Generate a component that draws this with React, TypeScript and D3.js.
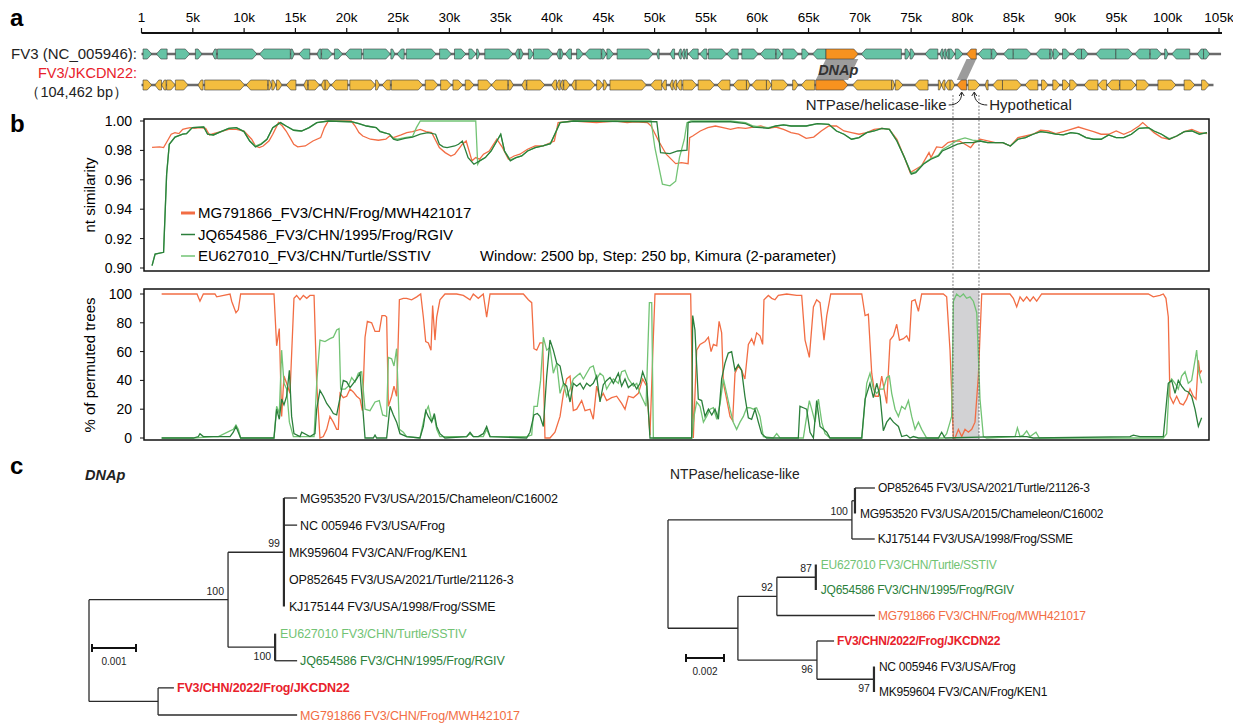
import React from "react";
import * as d3 from "d3";

const W = 1233;
const H = 725;
const FONT = "'Liberation Sans', Arial, Helvetica, sans-serif";

// colours
const C_FV3 = "#66c3a5";
const C_JK = "#f3bd3f";
const C_HL = "#f7921f";
const C_OR = "#f26d44";
const C_DG = "#2b7f3b";
const C_LG = "#72c374";
const C_RED = "#e8212b";

// ---------- panel a : genome maps (kb) ----------
const rulerTicks = [0.001, 5, 10, 15, 20, 25, 30, 35, 40, 45, 50, 55, 60, 65, 70, 75, 80, 85, 90, 95, 100, 105];
const rulerLabels = ["1", "5k", "10k", "15k", "20k", "25k", "30k", "35k", "40k", "45k", "50k", "55k", "60k", "65k", "70k", "75k", "80k", "85k", "90k", "95k", "100k", "105k"];

const fv3Length = 105.2;
const jkLength = 104.462;

// [start kb, end kb, strand]
const fv3Genes = [
  [0.15, 1.0, 1], [1.45, 2.5, -1], [3.3, 4.7, 1], [5.25, 5.9, 1], [6.9, 7.3, -1], [7.4, 11.25, 1],
  [11.5, 14.5, -1], [14.55, 14.9, 1], [15.35, 16.4, -1], [17.1, 17.5, -1], [17.55, 18.6, 1], [18.8, 19.6, 1],
  [19.85, 21.45, -1], [21.6, 24.25, 1], [24.3, 24.7, 1], [24.9, 25.6, -1], [25.8, 28.7, 1], [29.05, 30.2, 1],
  [30.5, 31.6, 1], [31.9, 32.6, 1], [32.65, 32.95, 1], [33.45, 36.2, 1], [36.4, 36.8, -1], [36.85, 37.2, 1],
  [37.7, 38.2, 1], [38.2, 40.1, 1], [40.45, 40.8, -1], [40.8, 41.1, 1], [41.3, 41.9, -1], [42.4, 43.05, 1],
  [43.2, 44.8, -1], [44.85, 45.3, 1], [45.35, 46.0, 1], [46.35, 49.85, 1], [50.2, 50.45, -1], [51.5, 51.95, -1],
  [52.3, 52.6, -1], [52.65, 52.95, -1], [52.95, 53.2, -1], [53.3, 54.25, -1], [54.4, 55.1, -1], [55.25, 57.0, 1],
  [57.05, 58.15, -1], [58.5, 60.1, 1], [60.3, 61.8, -1], [61.85, 62.4, 1], [62.5, 64.0, 1], [64.35, 65.05, 1],
  [65.4, 66.7, -1], [70.15, 74.05, -1], [74.4, 74.9, 1], [74.9, 75.35, 1], [76.35, 77.6, -1], [77.8, 78.1, -1],
  [78.1, 78.4, -1], [78.4, 78.7, -1], [78.7, 79.25, 1], [79.3, 80.05, 1], [81.55, 82.8, -1], [82.85, 83.4, 1],
  [84.0, 84.95, -1], [84.95, 86.7, 1], [87.15, 88.5, -1], [88.55, 88.85, 1], [88.85, 89.5, 1], [89.75, 90.5, 1],
  [90.8, 91.6, -1], [91.6, 92.25, 1], [93.0, 94.95, -1], [94.95, 96.6, 1], [96.8, 98.25, -1], [98.3, 99.4, 1],
  [99.7, 100.05, 1], [100.4, 102.15, -1], [102.9, 103.5, -1], [103.5, 104.1, 1],
];

const jkGenes = [
  [0.15, 1.0, 1], [1.3, 1.95, -1], [1.95, 2.4, -1], [2.45, 3.3, 1], [3.3, 4.55, 1], [5.5, 6.0, -1],
  [6.15, 10.05, 1], [10.2, 12.3, -1], [12.35, 12.7, 1], [12.7, 13.1, 1], [13.15, 13.7, 1], [14.1, 15.05, -1],
  [15.8, 16.2, -1], [16.25, 17.35, 1], [17.5, 17.9, -1], [17.9, 18.4, 1], [18.5, 20.1, -1], [20.3, 22.8, 1],
  [22.8, 23.2, 1], [23.45, 24.25, -1], [24.35, 27.4, 1], [27.65, 28.9, 1], [29.15, 30.2, 1], [30.35, 31.3, 1],
  [31.55, 32.4, 1], [32.8, 34.1, 1], [34.1, 35.7, -1], [35.75, 36.25, 1], [37.05, 37.5, -1], [37.55, 39.3, 1],
  [39.95, 40.45, -1], [40.45, 40.8, -1], [40.8, 41.1, -1], [41.15, 41.75, 1], [41.9, 42.35, -1], [42.35, 44.2, 1],
  [44.35, 45.0, 1], [45.0, 45.4, 1], [45.65, 49.2, 1], [49.6, 50.7, -1], [50.7, 51.15, -1], [51.5, 51.8, -1],
  [51.8, 52.15, -1], [52.15, 52.65, -1], [52.75, 54.1, 1], [54.25, 55.85, 1], [56.1, 57.35, -1], [57.65, 58.95, -1],
  [58.95, 59.3, 1], [59.45, 60.9, -1], [60.9, 61.4, 1], [61.4, 63.0, 1], [63.45, 64.0, 1], [64.3, 65.6, -1],
  [69.3, 73.1, -1], [73.1, 73.4, 1], [73.45, 74.2, 1], [75.35, 76.65, -1], [77.65, 77.95, 1], [77.95, 78.3, -1],
  [78.3, 78.8, -1], [78.8, 79.25, 1], [80.55, 81.7, 1], [82.2, 82.5, -1], [82.95, 83.9, -1], [83.9, 85.75, 1],
  [86.1, 87.35, -1], [87.7, 88.35, 1], [88.8, 89.5, 1], [89.75, 90.45, 1], [90.45, 91.2, 1], [91.85, 93.2, -1],
  [93.2, 94.05, -1], [94.1, 95.3, -1], [95.35, 96.9, 1], [96.95, 98.2, 1], [99.05, 100.8, 1], [101.6, 102.65, 1],
  [103.3, 104.05, 1],
];

// DNAp, NTPase/helicase-like
const fv3Highlight = [[66.7, 69.85, 1], [80.4, 81.35, -1]];
const jkHighlight = [[65.7, 68.85, 1], [79.45, 80.4, -1]];
const hypothetical = [80.55, 81.7];

// ---------- panel b : similarity / bootscan ----------
const recombRegion = [79.35, 81.9];
const simTicks = [1.0, 0.98, 0.96, 0.94, 0.92, 0.9];
const bootTicks = [100, 80, 60, 40, 20, 0];

const simMG = [
  [0.79, 0.982], [1.54, 0.9824], [1.92, 0.9819], [2.29, 0.9864], [2.67, 0.991], [3.04, 0.9921], [3.42, 0.9914],
  [3.8, 0.9943], [4.17, 0.995], [4.55, 0.9955], [4.92, 0.995], [5.49, 0.9955], [6.05, 0.995], [6.43, 0.9905],
  [6.8, 0.9914], [7.55, 0.9928], [8.31, 0.9943], [9.06, 0.9943], [9.81, 0.9932], [10.56, 0.9876], [10.94, 0.983],
  [11.31, 0.9819], [11.69, 0.983], [12.25, 0.9864], [12.63, 0.991], [13.19, 0.9989], [13.57, 0.9966],
  [13.94, 0.9932], [14.32, 0.9887], [14.69, 0.9842], [15.07, 0.9824], [15.82, 0.983], [16.57, 0.9864],
  [17.33, 0.9887], [17.7, 0.9955], [18.08, 1.0], [20.33, 1.0], [20.71, 0.9966], [21.08, 0.9921], [21.46, 0.9898],
  [22.21, 0.9876], [22.99, 0.9869], [23.72, 0.9876], [24.09, 0.9898], [24.47, 0.9887], [25.22, 0.9905],
  [25.78, 0.9921], [26.34, 0.9928], [27.1, 0.9943], [27.66, 0.9928], [28.22, 0.9921], [28.97, 0.9819],
  [29.54, 0.9785], [30.1, 0.9762], [30.48, 0.9774], [31.23, 0.9842], [31.6, 0.9864], [32.17, 0.9729],
  [32.54, 0.9751], [32.92, 0.974], [33.3, 0.9774], [33.86, 0.9796], [34.61, 0.9876], [35.17, 0.9819],
  [35.74, 0.974], [36.3, 0.9762], [36.87, 0.9774], [37.62, 0.9808], [38.37, 0.983], [39.12, 0.983], [39.5, 0.9842],
  [40.25, 0.9864], [40.62, 0.9989], [42.13, 1.0], [44.38, 0.9989], [46.26, 1.0], [47.39, 0.9989], [48.14, 0.9995],
  [49.37, 0.9989], [49.74, 0.9966], [50.48, 0.9864], [51.22, 0.9774], [52.15, 0.971], [52.71, 0.9717],
  [53.37, 0.971], [53.52, 0.9887], [53.82, 0.9898], [54.56, 0.9932], [55.3, 0.9955], [56.05, 0.9966],
  [56.79, 0.9955], [57.53, 0.9943], [58.28, 0.9955], [59.01, 0.995], [59.76, 0.9959], [60.5, 0.9966],
  [61.24, 0.995], [61.98, 0.9959], [62.73, 0.9943], [63.47, 0.9921], [64.21, 0.991], [64.95, 0.9882],
  [65.69, 0.9891], [66.43, 0.9932], [67.17, 0.9966], [67.92, 0.9966], [68.66, 0.9932], [69.4, 0.9921],
  [70.14, 0.991], [70.88, 0.9921], [71.62, 0.9943], [72.37, 0.995], [73.11, 0.9943], [73.85, 0.9876],
  [74.59, 0.9751], [75.15, 0.9649], [75.7, 0.9672], [76.26, 0.9695], [77.0, 0.9785], [77.19, 0.9751],
  [77.74, 0.9824], [78.3, 0.9819], [78.86, 0.9853], [79.42, 0.9864], [79.97, 0.9864], [80.53, 0.9842],
  [81.08, 0.9819], [81.45, 0.9853], [82.01, 0.9876], [82.75, 0.9864], [83.5, 0.9853], [84.24, 0.9853],
  [84.98, 0.983], [85.72, 0.9887], [86.46, 0.9898], [87.2, 0.991], [87.94, 0.9937], [88.69, 0.9932],
  [89.43, 0.9914], [90.17, 0.9928], [90.91, 0.9943], [91.65, 0.9959], [92.4, 0.9943], [93.14, 0.9928],
  [93.88, 0.991], [94.62, 0.991], [95.36, 0.9932], [96.1, 0.991], [96.85, 0.9932], [97.59, 0.9966],
  [97.96, 0.9989], [98.52, 0.9955], [99.07, 0.9921], [99.81, 0.9887], [100.56, 0.9876], [101.3, 0.9898],
  [102.04, 0.9928], [102.78, 0.9943], [103.52, 0.9921], [104.27, 0.9914],
];

const simJQ = [
  [0.79, 0.9016], [1.09, 0.9095], [1.92, 0.9107], [2.22, 0.9638], [2.48, 0.9842], [3.04, 0.9891], [3.8, 0.991],
  [4.17, 0.9914], [4.74, 0.9955], [5.86, 0.9959], [6.24, 0.991], [6.8, 0.9905], [7.55, 0.9928], [8.31, 0.995],
  [9.06, 0.9955], [9.81, 0.9928], [10.37, 0.9864], [10.94, 0.9824], [11.5, 0.9842], [12.06, 0.9876],
  [12.63, 0.9955], [13.38, 0.9989], [13.94, 0.9966], [14.69, 0.9937], [15.45, 0.9932], [16.2, 0.9955],
  [16.95, 0.9989], [18.08, 1.0], [20.33, 0.9995], [21.08, 0.9982], [21.83, 0.9966], [22.77, 0.9955],
  [23.15, 0.9928], [23.53, 0.9921], [24.09, 0.991], [24.47, 0.9876], [24.85, 0.9869], [25.59, 0.9882],
  [26.34, 0.9891], [27.1, 0.991], [27.85, 0.9921], [28.6, 0.991], [28.97, 0.9842], [29.35, 0.9824],
  [29.73, 0.9819], [30.48, 0.983], [30.85, 0.9842], [31.23, 0.9864], [31.79, 0.9751], [32.36, 0.9706],
  [32.92, 0.9729], [33.48, 0.9751], [34.05, 0.9796], [34.61, 0.9864], [34.99, 0.991], [35.36, 0.9796],
  [35.93, 0.9729], [36.49, 0.9751], [37.05, 0.9762], [37.62, 0.9796], [38.37, 0.9819], [39.12, 0.983],
  [39.87, 0.9846], [40.44, 0.9932], [40.81, 0.9989], [42.13, 1.0], [50.3, 0.9995], [50.67, 0.9785],
  [51.59, 0.9778], [52.34, 0.9796], [53.26, 0.9801], [53.37, 0.9989], [53.82, 0.9995], [57.53, 0.9995],
  [59.01, 0.9982], [59.76, 0.9959], [60.5, 0.9955], [61.24, 0.995], [61.98, 0.9966], [62.73, 0.9973],
  [63.47, 0.9966], [64.95, 0.9966], [66.06, 0.9982], [67.17, 0.9977], [67.92, 0.9932], [68.66, 0.991],
  [69.4, 0.9876], [70.14, 0.9887], [70.88, 0.9921], [71.62, 0.9932], [72.37, 0.995], [73.11, 0.9943],
  [73.85, 0.9864], [74.59, 0.9751], [75.26, 0.9638], [75.7, 0.9649], [76.44, 0.9706], [77.19, 0.974],
  [77.93, 0.9762], [78.3, 0.9796], [79.04, 0.9819], [79.79, 0.9842], [80.53, 0.9853], [81.27, 0.9853],
  [82.01, 0.9864], [82.75, 0.9853], [83.5, 0.9853], [84.24, 0.9853], [84.98, 0.983], [85.72, 0.9876],
  [86.46, 0.9887], [87.2, 0.991], [87.94, 0.9928], [88.69, 0.9921], [89.43, 0.991], [90.17, 0.9905],
  [90.91, 0.9921], [91.65, 0.9914], [92.4, 0.9887], [93.14, 0.9876], [93.88, 0.9876], [94.62, 0.9905],
  [95.36, 0.9887], [96.1, 0.9887], [96.85, 0.991], [97.59, 0.995], [98.52, 0.9955], [99.07, 0.9932],
  [99.81, 0.991], [100.56, 0.9876], [101.3, 0.9898], [102.04, 0.9928], [102.78, 0.9932], [103.52, 0.991],
  [104.27, 0.9921],
];

const simEU = [
  [0.79, 0.9016], [1.09, 0.9095], [1.92, 0.9107], [2.22, 0.9638], [2.48, 0.9842], [3.04, 0.9891], [3.8, 0.991],
  [4.17, 0.9914], [4.74, 0.9955], [5.86, 0.9959], [6.24, 0.991], [6.8, 0.9905], [7.55, 0.9928], [8.31, 0.995],
  [9.06, 0.9955], [9.81, 0.9928], [10.37, 0.9864], [10.94, 0.983], [11.5, 0.9846], [12.06, 0.9876],
  [12.63, 0.9955], [13.38, 0.9989], [13.94, 0.9966], [14.69, 0.9937], [15.45, 0.9932], [16.2, 0.9955],
  [16.95, 0.9989], [18.08, 1.0], [20.33, 0.9995], [21.08, 0.9982], [21.83, 0.9966], [22.77, 0.9955],
  [23.15, 0.9932], [23.53, 0.9921], [24.09, 0.991], [24.47, 0.9882], [24.85, 0.9876], [25.59, 0.9887],
  [26.34, 0.9895], [26.72, 0.9955], [27.1, 1.0], [32.54, 1.0], [32.73, 0.9706], [32.92, 0.9729],
  [33.48, 0.9751], [34.05, 0.9796], [34.61, 0.9864], [34.99, 0.991], [35.36, 0.9796], [35.93, 0.9735],
  [36.49, 0.9751], [37.05, 0.9762], [37.62, 0.9796], [38.37, 0.9819], [39.12, 0.983], [39.87, 0.9846],
  [40.44, 0.9932], [40.81, 0.9989], [42.13, 1.0], [49.74, 1.0], [50.11, 0.9818], [50.85, 0.957],
  [51.59, 0.9559], [52.15, 0.959], [52.52, 0.9751], [53.0, 0.9876], [53.26, 0.9989], [53.64, 1.0],
  [57.53, 1.0], [59.01, 0.9989], [59.76, 0.9966], [60.5, 0.9959], [61.24, 0.9955], [61.98, 0.9966],
  [62.73, 0.9973], [63.47, 0.9966], [64.95, 0.9966], [66.06, 0.9982], [67.17, 0.9977], [67.92, 0.9932],
  [68.66, 0.991], [69.4, 0.9876], [70.14, 0.9887], [70.88, 0.9921], [71.62, 0.9932], [72.37, 0.995],
  [73.11, 0.9943], [73.85, 0.9864], [74.59, 0.9751], [75.26, 0.9645], [75.7, 0.9655], [76.44, 0.971],
  [77.19, 0.9745], [77.93, 0.9768], [78.3, 0.9805], [79.04, 0.9835], [79.79, 0.987], [80.53, 0.9885],
  [81.27, 0.987], [82.01, 0.9864], [82.75, 0.9853], [83.5, 0.9853], [84.24, 0.9853], [84.98, 0.983],
  [85.72, 0.9876], [86.46, 0.9887], [87.2, 0.991], [87.94, 0.9928], [88.69, 0.9921], [89.43, 0.991],
  [90.17, 0.9905], [90.91, 0.9921], [91.65, 0.9914], [92.4, 0.9887], [93.14, 0.9876], [93.88, 0.9876],
  [94.62, 0.9905], [95.36, 0.9887], [96.1, 0.9887], [96.85, 0.991], [97.59, 0.995], [98.52, 0.9955],
  [99.07, 0.9932], [99.81, 0.991], [100.56, 0.988], [101.3, 0.9898], [102.04, 0.9928], [102.78, 0.9935],
  [103.52, 0.9912], [104.27, 0.9921],
];

// % of permuted trees
const bootMG = [
  [1.73, 100], [5.2, 100], [5.49, 95], [5.82, 100], [6.96, 100], [7.13, 98], [8.44, 100], [8.6, 95], [9.02, 87],
  [9.25, 89], [9.48, 100], [12.75, 100], [13.01, 64], [13.27, 76], [13.5, 15], [13.73, 43], [13.99, 38],
  [14.32, 31], [14.71, 97], [14.97, 99], [15.3, 96], [15.63, 99], [15.96, 97], [16.28, 99], [16.68, 99],
  [16.94, 38], [17.26, 0], [17.59, 1], [17.92, 6], [18.24, 15], [18.57, 11], [18.9, 6], [19.06, 6], [19.23, 31],
  [19.55, 28], [19.88, 29], [20.21, 34], [20.53, 32], [20.86, 29], [21.19, 27], [21.42, 19], [21.68, 70],
  [21.91, 81], [22.33, 80], [22.66, 74], [23.08, 74], [23.34, 85], [23.64, 85], [23.8, 84], [23.97, 22],
  [24.29, 29], [24.52, 36], [24.78, 29], [25.05, 96], [25.44, 97], [25.76, 97], [26.25, 96], [26.75, 98],
  [27.14, 100], [27.4, 84], [27.63, 67], [27.89, 66], [28.15, 61], [28.31, 92], [28.54, 68], [28.71, 84],
  [29.03, 96], [29.52, 100], [30.67, 100], [31.32, 99], [31.98, 96], [32.3, 100], [32.79, 97], [33.28, 100],
  [33.61, 84], [33.94, 100], [37.21, 100], [37.7, 96], [38.03, 94], [38.25, 62], [38.52, 61], [38.84, 66],
  [39.11, 66], [39.33, 0], [39.82, 0], [40.31, 4], [40.81, 15], [41.14, 31], [41.46, 41], [41.79, 43],
  [42.11, 19], [42.44, 20], [42.93, 26], [43.26, 19], [43.75, 20], [44.07, 13], [44.4, 36], [44.73, 27],
  [45.05, 31], [45.38, 26], [45.87, 28], [46.36, 29], [46.85, 24], [47.18, 20], [47.51, 29], [48.0, 28],
  [48.49, 31], [48.91, 41], [49.31, 36], [49.63, 2], [49.96, 70], [50.12, 100], [53.62, 100], [53.88, 0],
  [54.21, 61], [54.54, 65], [55.03, 67], [55.36, 70], [55.62, 60], [55.85, 65], [56.18, 64], [56.41, 81],
  [56.66, 73], [56.83, 38], [57.15, 27], [57.48, 15], [57.74, 12], [57.97, 45], [58.29, 50], [58.62, 47],
  [58.94, 41], [59.28, 65], [59.6, 69], [59.83, 65], [60.09, 73], [60.42, 71], [60.68, 65], [60.81, 96],
  [61.24, 99], [61.57, 97], [61.89, 96], [62.22, 99], [63.04, 100], [64.02, 99], [64.51, 99], [64.84, 68],
  [65.26, 56], [65.66, 91], [65.98, 96], [66.31, 94], [66.7, 68], [66.97, 85], [67.36, 100], [70.4, 100],
  [70.73, 85], [71.05, 86], [71.38, 45], [71.71, 29], [72.03, 29], [72.36, 43], [72.85, 24], [73.18, 68],
  [73.51, 71], [73.83, 79], [74.1, 68], [74.49, 69], [74.81, 71], [75.07, 67], [75.3, 95], [75.63, 96],
  [75.96, 88], [76.28, 100], [78.4, 100], [78.73, 98], [79.06, 61], [79.39, 0], [79.55, 0], [79.88, 6],
  [80.21, 1], [80.53, 6], [80.86, 4], [81.19, 6], [81.51, 11], [81.84, 43], [82.17, 100], [84.94, 100],
  [85.27, 97], [85.6, 91], [85.93, 98], [86.25, 95], [86.58, 98], [86.91, 95], [87.23, 98], [87.56, 95],
  [88.05, 100], [98.51, 100], [99.0, 98], [99.65, 99], [99.98, 100], [100.24, 97], [100.47, 84], [100.63, 29],
  [100.96, 24], [101.29, 29], [101.62, 24], [101.94, 23], [102.27, 27], [102.6, 34], [102.92, 29], [103.19, 27],
  [103.42, 54], [103.58, 45], [103.74, 47],
];

const bootJQ = [
  [1.73, 0], [4.84, 0], [5.33, 1], [5.49, 3], [5.82, 1], [8.44, 1], [8.76, 4], [9.02, 8], [9.25, 4], [9.48, 0],
  [12.75, 0], [13.01, 20], [13.27, 13], [13.5, 27], [13.73, 23], [13.99, 29], [14.26, 47], [14.48, 15],
  [14.71, 3], [15.3, 1], [15.47, 4], [16.28, 1], [16.77, 3], [16.94, 20], [17.26, 33], [17.59, 29], [17.92, 24],
  [18.24, 21], [18.57, 17], [18.9, 16], [19.23, 28], [19.55, 40], [19.88, 39], [20.21, 35], [20.53, 38],
  [20.86, 41], [21.19, 45], [21.35, 31], [21.68, 0], [22.49, 0], [22.66, 2], [22.82, 0], [23.8, 0], [24.13, 22],
  [24.46, 16], [24.78, 11], [25.11, 3], [25.76, 1], [27.07, 0], [27.4, 8], [27.63, 19], [27.89, 15], [28.22, 11],
  [28.48, 17], [28.71, 8], [29.03, 3], [29.52, 0], [31.65, 1], [31.98, 4], [32.3, 1], [32.79, 1], [33.28, 3],
  [33.61, 8], [33.94, 1], [37.53, 0], [37.86, 4], [38.25, 16], [38.58, 17], [38.84, 15], [39.17, 8], [39.5, 43],
  [39.82, 68], [40.15, 61], [40.48, 52], [40.81, 50], [41.14, 38], [41.46, 36], [41.79, 25], [42.11, 38],
  [42.44, 36], [42.77, 38], [43.1, 34], [43.42, 38], [43.75, 36], [44.07, 38], [44.4, 43], [44.73, 25],
  [45.05, 37], [45.38, 40], [45.71, 42], [46.04, 38], [46.53, 45], [46.85, 36], [47.18, 41], [47.51, 35],
  [48.0, 38], [48.33, 34], [48.65, 38], [48.91, 46], [49.31, 38], [49.63, 0], [53.72, 0], [53.82, 85],
  [54.04, 75], [54.37, 27], [54.7, 26], [55.03, 15], [55.36, 20], [55.69, 16], [56.01, 20], [56.34, 13],
  [56.66, 41], [56.99, 52], [57.31, 59], [57.64, 60], [57.97, 47], [58.29, 51], [58.62, 47], [58.94, 29],
  [59.28, 14], [59.6, 13], [59.93, 20], [60.26, 11], [60.58, 3], [61.07, 0], [64.18, 0], [64.34, 22],
  [64.67, 21], [65.0, 20], [65.33, 4], [65.66, 0], [65.98, 26], [66.31, 8], [66.64, 6], [66.97, 4], [67.29, 0],
  [70.4, 0], [70.73, 27], [71.21, 38], [71.54, 28], [71.87, 38], [72.2, 29], [72.52, 5], [72.85, 11],
  [73.18, 14], [73.51, 11], [74.0, 8], [74.32, 1], [74.81, 2], [75.14, 0], [75.46, 1], [75.96, 0], [77.92, 0],
  [78.24, 4], [78.57, 0], [83.81, 1], [84.62, 1], [86.58, 1], [87.23, 0], [96.71, 1], [97.04, 2], [97.69, 1],
  [99.98, 1], [100.47, 38], [100.8, 40], [101.13, 31], [101.45, 40], [101.78, 36], [102.11, 33], [102.43, 32],
  [102.76, 29], [103.09, 20], [103.42, 8], [103.74, 14],
];

const bootEU = [
  [1.73, 0], [4.84, 0], [6.8, 1], [7.29, 1], [8.44, 5], [8.76, 6], [9.02, 9], [9.25, 6], [9.48, 0], [12.75, 0],
  [13.01, 22], [13.27, 17], [13.5, 61], [13.73, 38], [13.99, 34], [14.26, 11], [14.65, 1], [16.68, 1],
  [16.94, 38], [17.26, 68], [17.75, 67], [18.24, 69], [18.57, 70], [18.9, 75], [19.13, 76], [19.29, 34],
  [19.72, 34], [20.04, 36], [20.37, 42], [20.7, 39], [21.02, 45], [21.35, 46], [21.68, 20], [22.17, 19],
  [22.66, 25], [23.08, 26], [23.41, 16], [23.8, 15], [23.97, 56], [24.29, 55], [24.52, 50], [24.78, 62],
  [25.05, 6], [25.44, 4], [25.76, 1], [27.07, 0], [27.4, 11], [27.63, 18], [27.89, 22], [28.22, 12],
  [28.48, 15], [28.71, 6], [29.03, 1], [31.65, 1], [31.98, 3], [32.3, 1], [33.28, 1], [33.61, 6], [33.94, 1],
  [37.53, 1], [38.03, 2], [38.25, 22], [38.58, 22], [38.9, 40], [39.17, 70], [39.5, 61], [39.82, 63],
  [40.15, 45], [40.48, 52], [40.81, 31], [41.14, 38], [41.46, 29], [41.79, 34], [42.11, 41], [42.44, 43],
  [42.77, 45], [43.1, 41], [43.42, 45], [43.75, 49], [44.07, 50], [44.4, 41], [44.73, 45], [45.05, 43],
  [45.38, 34], [45.71, 38], [46.04, 41], [46.53, 38], [46.85, 46], [47.18, 47], [47.51, 41], [48.0, 36],
  [48.33, 38], [48.65, 31], [49.24, 22], [49.57, 94], [49.8, 94], [49.96, 0], [53.72, 0], [53.95, 15],
  [54.21, 25], [54.54, 22], [54.87, 11], [55.19, 15], [55.52, 20], [55.85, 21], [56.18, 13], [56.51, 24],
  [56.83, 41], [57.15, 31], [57.48, 20], [57.8, 11], [58.13, 6], [58.46, 11], [58.79, 15], [59.11, 21],
  [59.44, 21], [59.77, 20], [60.09, 21], [60.42, 15], [60.75, 1], [61.73, 0], [62.06, 3], [62.39, 0],
  [64.67, 0], [65.0, 15], [65.26, 26], [65.49, 20], [65.82, 11], [66.15, 27], [66.48, 11], [66.8, 3],
  [67.29, 0], [70.4, 0], [70.89, 38], [71.21, 45], [71.54, 34], [71.87, 31], [72.2, 34], [72.52, 34],
  [72.85, 42], [73.11, 43], [73.34, 31], [73.67, 20], [74.0, 15], [74.32, 22], [74.65, 20], [74.98, 26],
  [75.3, 15], [75.63, 6], [75.96, 11], [76.28, 6], [76.77, 0], [78.4, 0], [78.73, 3], [79.06, 11], [79.22, 15],
  [79.39, 95], [79.71, 100], [80.04, 98], [80.37, 100], [80.69, 97], [81.02, 98], [81.35, 95], [81.68, 87],
  [82.0, 27], [82.33, 1], [82.66, 0], [85.44, 1], [85.67, 7], [85.93, 1], [86.25, 2], [86.58, 5], [86.91, 1],
  [87.49, 4], [87.82, 0], [99.98, 0], [100.31, 3], [100.57, 38], [100.8, 41], [101.13, 38], [101.45, 34],
  [101.78, 43], [102.11, 46], [102.43, 38], [102.76, 40], [103.09, 54], [103.25, 61], [103.42, 47], [103.74, 38],
];

const legendItems = [
  { label: "MG791866_FV3/CHN/Frog/MWH421017", color: C_OR, width: 3 },
  { label: "JQ654586_FV3/CHN/1995/Frog/RGIV", color: C_DG, width: 1.5 },
  { label: "EU627010_FV3/CHN/Turtle/SSTIV", color: C_LG, width: 1.5 },
];

// ---------- panel c : trees ----------
type TNode = { name?: string; len: number; boot?: string; pos?: string; color?: string; bold?: boolean; children?: TNode[] };

const dnapTree: TNode = {
  len: 0,
  children: [
    {
      len: 0.00316, boot: "100", pos: "above",
      children: [
        {
          len: 0.00127, boot: "99", pos: "above",
          children: [
            { name: "MG953520 FV3/USA/2015/Chameleon/C16002", len: 0.0003 },
            { name: "NC 005946 FV3/USA/Frog", len: 0.0003 },
            { name: "MK959604 FV3/CAN/Frog/KEN1", len: 0 },
            { name: "OP852645 FV3/USA/2021/Turtle/21126-3", len: 0 },
            { name: "KJ175144 FV3/USA/1998/Frog/SSME", len: 0 },
          ],
        },
        {
          len: 0.00107, boot: "100", pos: "below",
          children: [
            { name: "EU627010 FV3/CHN/Turtle/SSTIV", len: 0, color: C_LG },
            { name: "JQ654586 FV3/CHN/1995/Frog/RGIV", len: 0.0005, color: C_DG },
          ],
        },
      ],
    },
    {
      len: 0.00157,
      children: [
        { name: "FV3/CHN/2022/Frog/JKCDN22", len: 0.00036, color: C_RED, bold: true },
        { name: "MG791866 FV3/CHN/Frog/MWH421017", len: 0.00316, color: C_OR },
      ],
    },
  ],
};

const ntpaseTree: TNode = {
  len: 0,
  children: [
    {
      len: 0.00968, boot: "100", pos: "above",
      children: [
        {
          len: 0.00016,
          children: [
            { name: "OP852645 FV3/USA/2021/Turtle/21126-3", len: 0.00105 },
            { name: "MG953520 FV3/USA/2015/Chameleon/C16002", len: 0 },
          ],
        },
        { name: "KJ175144 FV3/USA/1998/Frog/SSME", len: 0.0012 },
      ],
    },
    {
      len: 0.00368,
      children: [
        {
          len: 0.00205, boot: "92", pos: "above",
          children: [
            {
              len: 0.00205, boot: "87", pos: "above",
              children: [
                { name: "EU627010 FV3/CHN/Turtle/SSTIV", len: 0, color: C_LG },
                { name: "JQ654586 FV3/CHN/1995/Frog/RGIV", len: 0, color: C_DG },
              ],
            },
            { name: "MG791866 FV3/CHN/Frog/MWH421017", len: 0.00516, color: C_OR },
          ],
        },
        {
          len: 0.00416, boot: "96", pos: "below",
          children: [
            { name: "FV3/CHN/2022/Frog/JKCDN22", len: 0.0009, color: C_RED, bold: true },
            {
              len: 0.003, boot: "97", pos: "below",
              children: [
                { name: "NC 005946 FV3/USA/Frog", len: 0 },
                { name: "MK959604 FV3/CAN/Frog/KEN1", len: 0 },
              ],
            },
          ],
        },
      ],
    },
  ],
};

// ---------- helpers ----------
const xa = d3.scaleLinear().domain([0, 105]).range([141.5, 1219]);
const xb = d3.scaleLinear().domain([0, 104.462]).range([144, 1209]);
const ySim = d3.scaleLinear().domain([0.9, 1.0]).range([268, 121]);
const yBoot = d3.scaleLinear().domain([0, 100]).range([438, 294]);

function genePath(x0: number, x1: number, dir: number, yc: number, h: number) {
  const head = Math.min(4.5, (x1 - x0) * 0.6);
  const t = yc - h / 2;
  const b = yc + h / 2;
  if (dir > 0) return `M${x0},${t}L${x1 - head},${t}L${x1},${yc}L${x1 - head},${b}L${x0},${b}Z`;
  return `M${x1},${t}L${x0 + head},${t}L${x0},${yc}L${x0 + head},${b}L${x1},${b}Z`;
}

function Track({ genes, highlight, yc, fill, length }: any) {
  return (
    <g>
      <line x1={xa(0)} x2={xa(length)} y1={yc} y2={yc} stroke="#6b6b6b" strokeWidth={2.4} />
      {genes.map((g: number[], i: number) => (
        <path key={i} d={genePath(xa(g[0]), xa(g[1]), g[2], yc, 10)} fill={fill} stroke="#3a3a3a" strokeWidth={0.6} />
      ))}
      {highlight.map((g: number[], i: number) => (
        <path key={"h" + i} d={genePath(xa(g[0]), xa(g[1]), g[2], yc, 10)} fill={C_HL} stroke="#3a3a3a" strokeWidth={0.6} />
      ))}
    </g>
  );
}

function Tree({ data, rootX, unit, yTop, yBottom, fontSize, spacing }: any) {
  const root = d3.hierarchy<TNode>(data);
  const xs = d3.scaleLinear().domain([0, 0.001]).range([rootX, rootX + unit]);
  const leaves = root.leaves();
  const yl = d3.scaleLinear().domain([0, leaves.length - 1]).range([yTop, yBottom]);
  const depth = new Map<any, number>();
  const ypos = new Map<any, number>();
  root.each((n: any) => {
    depth.set(n, (n.parent ? depth.get(n.parent)! : 0) + n.data.len);
  });
  leaves.forEach((n: any, i: number) => ypos.set(n, yl(i)));
  root.eachAfter((n: any) => {
    if (n.children) {
      const c = n.children;
      ypos.set(n, (ypos.get(c[0])! + ypos.get(c[c.length - 1])!) / 2);
    }
  });
  const nodes = root.descendants();
  return (
    <g fontFamily={FONT}>
      {nodes.map((n: any, i: number) => {
        const x = xs(depth.get(n)!);
        const y = ypos.get(n)!;
        const els: any[] = [];
        if (n.parent) {
          const px = xs(depth.get(n.parent)!);
          els.push(<line key="h" x1={px} x2={x} y1={y} y2={y} stroke="#2b2b2b" strokeWidth={1.3} />);
        }
        if (n.children) {
          const c = n.children;
          const bold = c.some((k: any) => k.data.len === 0);
          els.push(
            <line key="v" x1={x} x2={x} y1={ypos.get(c[0])} y2={ypos.get(c[c.length - 1])}
              stroke="#2b2b2b" strokeWidth={bold ? 2.2 : 1.3} />
          );
          if (n.data.boot) {
            els.push(
              <text key="b" x={x - 4} y={n.data.pos === "below" ? y + 13 : y - 5} fontSize={10.5}
                textAnchor="end" fill="#222">{n.data.boot}</text>
            );
          }
        } else {
          els.push(
            <text key="t" x={x + (n.data.len > 0 ? 3 : 5)} y={y} dy="0.36em" fontSize={fontSize}
              letterSpacing={spacing} fill={n.data.color || "#111"}
              fontWeight={n.data.bold ? "bold" : "normal"}>{n.data.name}</text>
          );
        }
        return <g key={i}>{els}</g>;
      })}
    </g>
  );
}

function ScaleBar({ x, y, unit, value, label }: any) {
  const s = d3.scaleLinear().domain([0, 0.001]).range([0, unit]);
  const w = s(value);
  return (
    <g>
      <line x1={x} x2={x + w} y1={y} y2={y} stroke="#111" strokeWidth={2} />
      <line x1={x} x2={x} y1={y - 4} y2={y + 4} stroke="#111" strokeWidth={2} />
      <line x1={x + w} x2={x + w} y1={y - 4} y2={y + 4} stroke="#111" strokeWidth={2} />
      <text x={x + w / 2} y={y + 17} fontSize={10} textAnchor="middle" fill="#222">{label}</text>
    </g>
  );
}

export default function App() {
  const simLine = d3.line<number[]>().x((d) => xb(d[0])).y((d) => ySim(Math.min(1, d[1])));
  const bootLine = d3.line<number[]>().x((d) => xb(d[0])).y((d) => yBoot(d[1]));

  const yFv3 = 54;
  const yJk = 85;

  const connector = (f: number[], j: number[]) =>
    `${xa(f[0])},${yFv3 + 5} ${xa(f[1])},${yFv3 + 5} ${xa(j[1])},${yJk - 5} ${xa(j[0])},${yJk - 5}`;

  const rx0 = xb(recombRegion[0]);
  const rx1 = xb(recombRegion[1]);
  const ntX = xa((jkHighlight[1][0] + jkHighlight[1][1]) / 2);
  const hyX = xa(hypothetical[0] + 0.6);

  return (
    <div style={{ position: "absolute", left: 0, top: 0 }}>
      <svg width={W} height={H} fontFamily={FONT} style={{ display: "block", background: "#fff" }}>
        {/* ===== panel a ===== */}
        <text x={10} y={26} fontSize={24} fontWeight="bold">a</text>
        <line x1={xa(0)} x2={xa(105) + 3} y1={33} y2={33} stroke="#111" strokeWidth={1.8} />
        {rulerTicks.map((t, i) => (
          <g key={i}>
            <line x1={xa(t)} x2={xa(t)} y1={28} y2={33} stroke="#111" strokeWidth={1.2} />
            <text x={xa(t)} y={22} fontSize={13.5} textAnchor="middle">{rulerLabels[i]}</text>
          </g>
        ))}

        <polygon points={connector(fv3Highlight[0], jkHighlight[0])} fill="#9c9c9c" />
        <polygon points={connector(fv3Highlight[1], jkHighlight[1])} fill="#9c9c9c" />
        <Track genes={fv3Genes} highlight={fv3Highlight} yc={yFv3} fill={C_FV3} length={fv3Length} />
        <Track genes={jkGenes} highlight={jkHighlight} yc={yJk} fill={C_JK} length={jkLength} />

        <text x={137} y={58.5} fontSize={15} textAnchor="end" fill="#222">FV3 (NC_005946):</text>
        <text x={137} y={78} fontSize={14.5} textAnchor="end" fill={C_RED}>FV3/JKCDN22:</text>
        <text x={128} y={97} fontSize={14.5} textAnchor="end" fill="#222">（104,462 bp）</text>
        <text x={xa(67.9)} y={75} fontSize={14.5} fontWeight="bold" fontStyle="italic" textAnchor="middle" fill="#333">DNAp</text>

        {/* annotation arrows */}
        <text x={ntX - 15} y={110} fontSize={15} textAnchor="end" fill="#222">NTPase/helicase-like</text>
        <path d={`M${ntX - 13},105 C${ntX - 5},105 ${ntX},101 ${ntX},93`} fill="none" stroke="#222" strokeWidth={1} />
        <path d={`M${ntX - 2.5},96 L${ntX},92 L${ntX + 2.5},96`} fill="none" stroke="#222" strokeWidth={1} />
        <text x={hyX + 15} y={110} fontSize={15} fill="#222">Hypothetical</text>
        <path d={`M${hyX + 13},105 C${hyX + 5},105 ${hyX},101 ${hyX},93`} fill="none" stroke="#222" strokeWidth={1} />
        <path d={`M${hyX - 2.5},96 L${hyX},92 L${hyX + 2.5},96`} fill="none" stroke="#222" strokeWidth={1} />

        {/* ===== panel b ===== */}
        <text x={10} y={132} fontSize={24} fontWeight="bold">b</text>

        {/* similarity plot */}
        <rect x={xb(0)} y={119} width={xb(104.462) - xb(0)} height={152} fill="none" stroke="#111" strokeWidth={1.5} />
        {simTicks.map((t, i) => (
          <g key={i}>
            <line x1={xb(0) - 4} x2={xb(0)} y1={ySim(t)} y2={ySim(t)} stroke="#111" />
            <text x={132} y={ySim(t)} dy="0.35em" fontSize={14} textAnchor="end">{d3.format(".2f")(t)}</text>
          </g>
        ))}
        <text transform={`translate(95,195) rotate(-90)`} fontSize={15} textAnchor="middle">nt similarity</text>
        <path d={simLine(simMG) || ""} fill="none" stroke={C_OR} strokeWidth={1.3} />
        <path d={simLine(simEU) || ""} fill="none" stroke={C_LG} strokeWidth={1.3} />
        <path d={simLine(simJQ) || ""} fill="none" stroke={C_DG} strokeWidth={1.3} />

        {legendItems.map((l, i) => {
          const y = 213 + i * 21.5;
          return (
            <g key={i}>
              <line x1={181} x2={195} y1={y} y2={y} stroke={l.color} strokeWidth={l.width} />
              <text x={198} y={y} dy="0.36em" fontSize={15}>{l.label}</text>
            </g>
          );
        })}
        <text x={480} y={256} dy="0.36em" fontSize={14.8}>Window: 2500 bp, Step: 250 bp, Kimura (2-parameter)</text>

        {/* bootscan plot */}
        <rect x={rx0} y={289} width={rx1 - rx0} height={151} fill="#d2d2d4" />
        {bootTicks.map((t, i) => (
          <g key={i}>
            <line x1={xb(0) - 4} x2={xb(0)} y1={yBoot(t)} y2={yBoot(t)} stroke="#111" />
            <text x={132} y={yBoot(t)} dy="0.35em" fontSize={14} textAnchor="end">{t}</text>
          </g>
        ))}
        <text transform={`translate(95,365) rotate(-90)`} fontSize={15} textAnchor="middle">% of permuted trees</text>
        <path d={bootLine(bootMG) || ""} fill="none" stroke={C_OR} strokeWidth={1.3} />
        <path d={bootLine(bootEU) || ""} fill="none" stroke={C_LG} strokeWidth={1.3} />
        <path d={bootLine(bootJQ) || ""} fill="none" stroke={C_DG} strokeWidth={1.3} />
        <rect x={xb(0)} y={289} width={xb(104.462) - xb(0)} height={151} fill="none" stroke="#111" strokeWidth={1.5} />

        {/* recombination region guides */}
        {[rx0, rx1].map((x, i) => (
          <line key={i} x1={x} x2={x} y1={95} y2={440} stroke="#555" strokeWidth={0.8} strokeDasharray="2,1.5" />
        ))}

        {/* ===== panel c ===== */}
        <text x={10} y={474} fontSize={24} fontWeight="bold">c</text>
        <text x={85} y={480} fontSize={14.5} fontWeight="bold" fontStyle="italic" fill="#222">DNAp</text>
        <Tree data={dnapTree} rootX={89} unit={44} yTop={498} yBottom={715} fontSize={12.5} spacing={-0.15} />
        <ScaleBar x={92} y={648} unit={44} value={0.001} label="0.001" />

        <text x={670} y={479} fontSize={13.8} fill="#222">NTPase/helicase-like</text>
        <Tree data={ntpaseTree} rootX={668} unit={19} yTop={488} yBottom={692} fontSize={12} spacing={-0.25} />
        <ScaleBar x={686} y={658} unit={19} value={0.002} label="0.002" />
      </svg>
    </div>
  );
}
